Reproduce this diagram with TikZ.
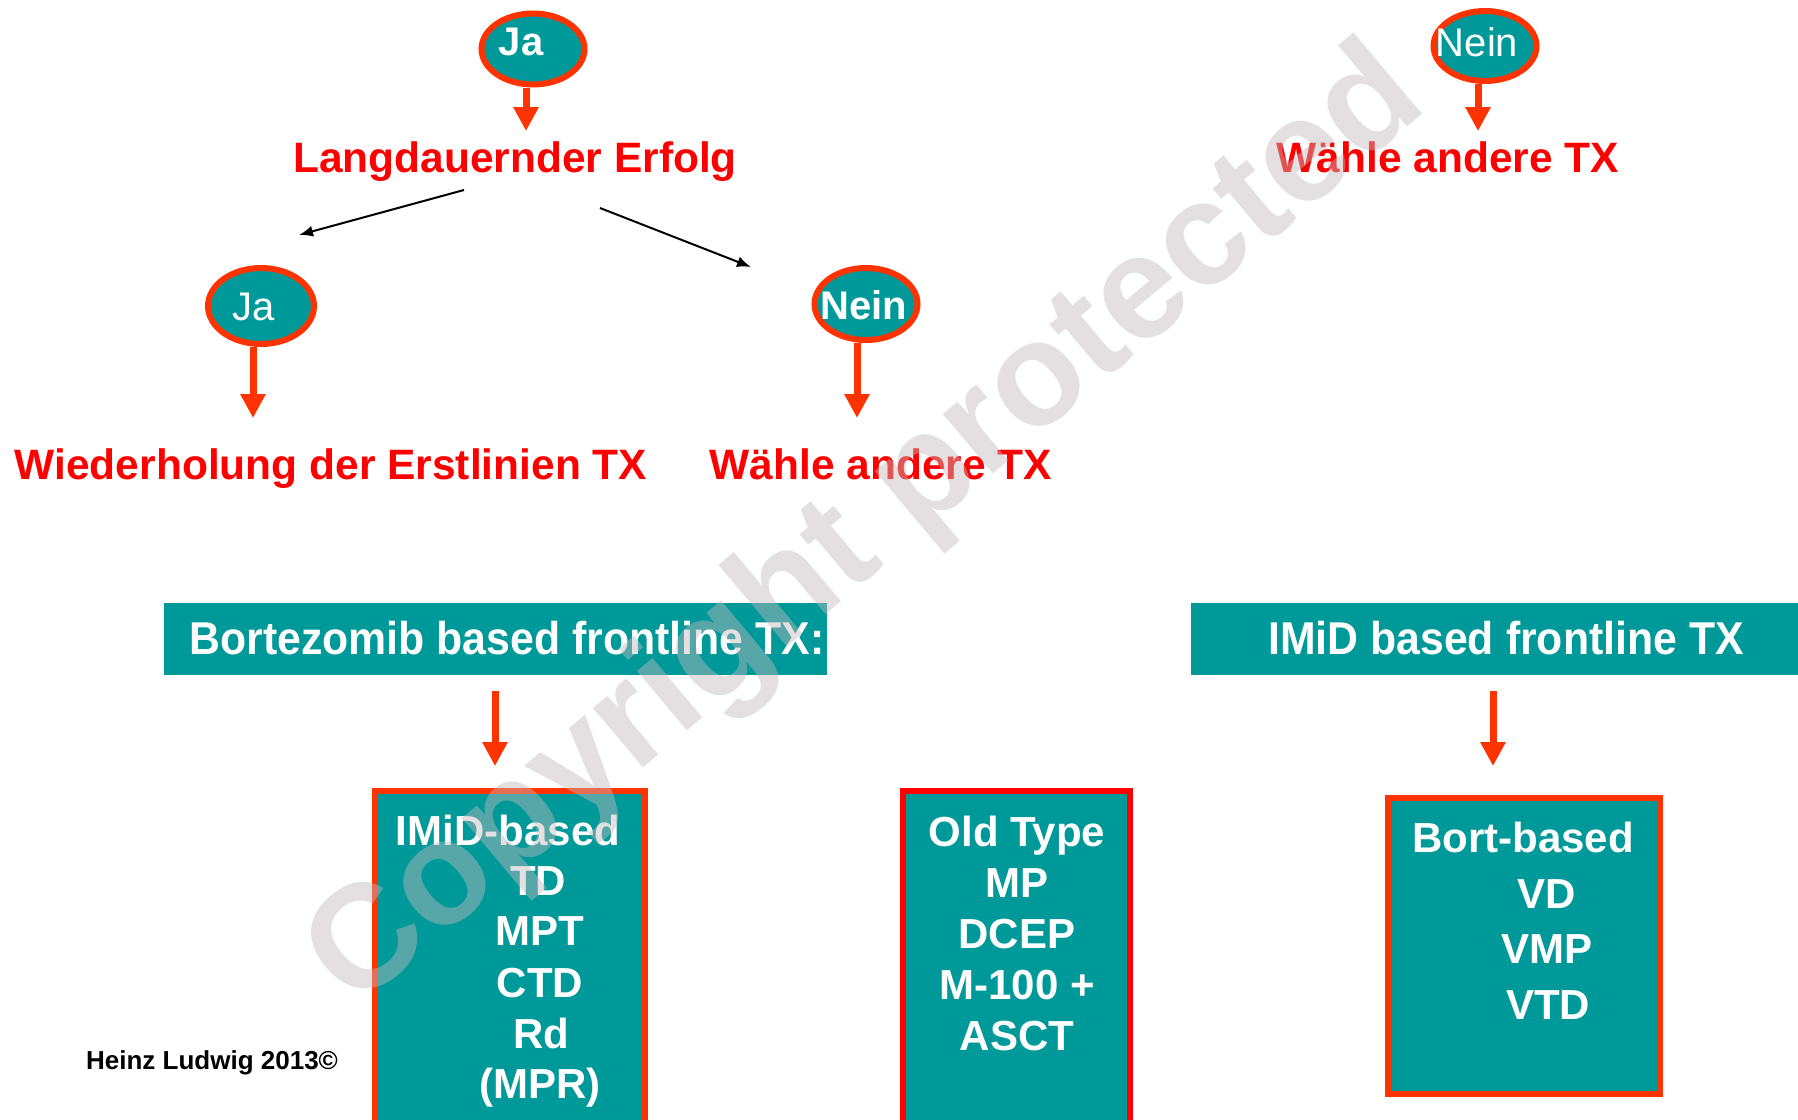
\documentclass[tikz,border=0pt]{standalone}
\usepackage{fontspec}
\setmainfont{Liberation Sans}
\usetikzlibrary{arrows.meta,shapes.geometric}
\definecolor{tealc}{HTML}{009999}
\definecolor{orred}{HTML}{FF3300}
\definecolor{redc}{HTML}{FF0000}
\definecolor{wmgray}{RGB}{196,186,188}
\begin{document}
\begin{tikzpicture}[x=1pt,y=-1pt,
  oval/.style={ellipse,draw=orred,fill=tealc,line width=6pt,inner sep=0pt,minimum width=103pt,minimum height=71pt},
  ovaltxt/.style={text=white,inner sep=0pt,anchor=base,font=\fontsize{40}{44}\selectfont},
  redarrow/.style={draw=orred,line width=7pt,-{Triangle[width=24pt,length=24pt]}},
  thinarrow/.style={draw=black,line width=2pt,-{Latex[length=14pt,width=11pt]}},
  redtxt/.style={text=redc,inner sep=0pt,anchor=base,font=\fontsize{42.5}{50}\selectfont\bfseries},
  bartxt/.style={text=white,inner sep=0pt,anchor=base,xscale=0.93,font=\fontsize{46}{50}\selectfont\bfseries},
  boxtxt/.style={text=white,inner sep=0pt,anchor=base,font=\fontsize{42}{50}\selectfont\bfseries},
  tealbox/.style={fill=tealc,line width=6pt}
]
\useasboundingbox (0,0) rectangle (1798,1119);
\fill[white] (0,0) rectangle (1798,1119);
\clip (0,0) rectangle (1798,1119);

% top left branch
\node[oval] (ja1) at (533,49) {};
\node[ovaltxt,font=\fontsize{40}{44}\selectfont\bfseries] (ja1t) at (521,55) {Ja};
\coordinate (ja1tip) at (526,131);
\draw[redarrow] (ja1.south -| ja1tip) -- (ja1tip);
\node[redtxt] (lang) at (515,172) {Langdauernder Erfolg};

\coordinate (la1) at (464,190);
\coordinate (la1e) at (299,235);
\coordinate (la2) at (600,208);
\coordinate (la2e) at (751,267);
\draw[thinarrow] (la1) -- (la1e);
\draw[thinarrow] (la2) -- (la2e);

\node[oval,minimum width=106pt,minimum height=76pt] (ja2) at (261,306) {};
\node[ovaltxt] (ja2t) at (254,320) {Ja};
\coordinate (ja2tip) at (253,418);
\draw[redarrow] (ja2.south -| ja2tip) -- (ja2tip);
\node[redtxt] (wied) at (331,479) {Wiederholung der Erstlinien TX};

\node[oval,minimum width=103pt,minimum height=72pt] (nein2) at (866,304) {};
\node[ovaltxt,font=\fontsize{40}{44}\selectfont\bfseries] (nein2t) at (864,319) {Nein};
\coordinate (nein2tip) at (857,418);
\draw[redarrow] (nein2.south -| nein2tip) -- (nein2tip);
\node[redtxt] (wahle2) at (881,479) {Wähle andere TX};

% top right
\node[oval,minimum width=103pt,minimum height=70pt] (nein1) at (1485,46) {};
\node[ovaltxt] (nein1t) at (1477,56) {Nein};
\coordinate (nein1tip) at (1478,131);
\draw[redarrow] (nein1.south -| nein1tip) -- (nein1tip);
\node[redtxt] (wahle1) at (1448,172) {Wähle andere TX};

% bars
\fill[tealc] (164,603) rectangle (827,675);
\node[bartxt] (bortbar) at (507,654) {Bortezomib based frontline TX:};
\fill[tealc] (1191,603) rectangle (1798,675);
\node[bartxt] (imidbar) at (1506,654) {IMiD based frontline TX};

\coordinate (ba1s) at (495,691);
\coordinate (ba1e) at (495,766);
\coordinate (ba2s) at (1493,691);
\coordinate (ba2e) at (1493,766);
\draw[redarrow] (ba1s) -- (ba1e);
\draw[redarrow] (ba2s) -- (ba2e);

% boxes
\draw[tealbox,draw=orred] (375,791) rectangle (645,1135);
\node[boxtxt] (i1) at (508,845) {IMiD-based};
\node[boxtxt] (i2) at (538,895) {TD};
\node[boxtxt] (i3) at (540,945) {MPT};
\node[boxtxt] (i4) at (540,997) {CTD};
\node[boxtxt] (i5) at (541,1048) {Rd};
\node[boxtxt] (i6) at (540,1098) {(MPR)};

\draw[tealbox,draw=redc] (903,791) rectangle (1130,1135);
\node[boxtxt] (o1) at (1017,846) {Old Type};
\node[boxtxt] (o2) at (1017,897) {MP};
\node[boxtxt] (o3) at (1017,948) {DCEP};
\node[boxtxt] (o4) at (1017,999) {M-100 +};
\node[boxtxt] (o5) at (1017,1050) {ASCT};

\draw[tealbox,draw=orred] (1388,798) rectangle (1660,1094);
\node[boxtxt] (b1) at (1523,852) {Bort-based};
\node[boxtxt] (b2) at (1547,908) {VD};
\node[boxtxt] (b3) at (1547,963) {VMP};
\node[boxtxt] (b4) at (1548,1019) {VTD};

\node[inner sep=0pt,anchor=base,font=\fontsize{26}{30}\selectfont\bfseries] (author) at (212,1069) {Heinz Ludwig 2013©};

% watermark
\node[rotate=40,inner sep=0pt,text=wmgray,opacity=0.45,font=\fontsize{147}{150}\selectfont\bfseries] (wm) at (868,530) {Copyright protected};
\end{tikzpicture}
\end{document}
